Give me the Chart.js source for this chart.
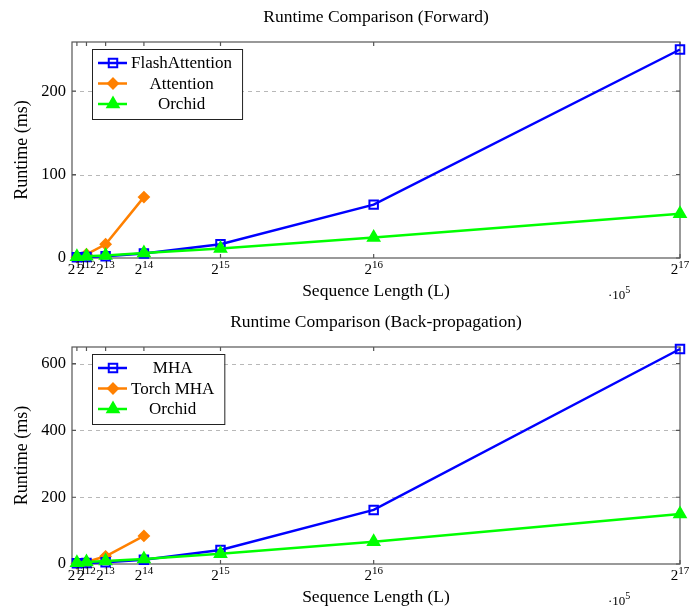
<!DOCTYPE html>
<html>
<head>
<meta charset="utf-8">
<script src="https://cdn.jsdelivr.net/npm/chart.js@4.4.1/dist/chart.umd.min.js"></script>
<style>
  html, body { margin: 0; padding: 0; background: #fff; }
  canvas { display: block; }
</style>
</head>
<body>
<canvas id="fwd" width="690" height="305"></canvas>
<canvas id="bwd" width="690" height="306"></canvas>
<script>
// --- Data (runtime in ms) ---
const seqLengths = [2048, 4096, 8192, 16384, 32768, 65536, 131072];
const xExponents = ['11', '12', '13', '14', '15', '16', '17'];

const fwdFlash = [0.8, 1.2, 2.0, 5.5, 16.5, 64, 250];
const fwdAttention = [1.0, 4.5, 16.5, 73];
const fwdOrchid = [1.5, 2.0, 3.0, 6.0, 11.5, 24.5, 53];

const bwdMHA = [2, 3, 5, 13, 42, 162, 644];
const bwdTorchMHA = [2, 6, 23, 84];
const bwdOrchid = [4, 6, 9, 15, 31, 67, 150];

const FONT = 'Liberation Serif';
const BLUE = '#0000ff', ORANGE = '#ff8000', GREEN = '#00ff00';

const pairs = vals => vals.map((v, i) => ({ x: seqLengths[i], y: v }));

function series(label, vals, color, style, radius, filled, order) {
    return {
        label: label,
        data: pairs(vals),
        borderColor: color,
        backgroundColor: color,
        borderWidth: 2.5,
        tension: 0,
        pointStyle: style,
        pointRadius: radius,
        pointBorderWidth: 2,
        pointBorderColor: color,
        pointBackgroundColor: filled ? color : 'rgba(0,0,0,0)',
        clip: false,
        order: order
    };
}

// marker for the hand drawn legend
function drawMarker(ctx, ds, x, y) {
    const r = ds.pointRadius;
    ctx.beginPath();
    if (ds.pointStyle === 'rect') {
        const s = r * Math.SQRT1_2;
        ctx.rect(x - s, y - s, 2 * s, 2 * s);
    } else if (ds.pointStyle === 'rectRot') {
        ctx.moveTo(x, y - r); ctx.lineTo(x + r, y); ctx.lineTo(x, y + r); ctx.lineTo(x - r, y);
        ctx.closePath();
    } else {
        let a = 0;
        ctx.moveTo(x + Math.sin(a) * r, y - Math.cos(a) * r);
        a += 2 * Math.PI / 3;
        ctx.lineTo(x + Math.sin(a) * r, y - Math.cos(a) * r);
        a += 2 * Math.PI / 3;
        ctx.lineTo(x + Math.sin(a) * r, y - Math.cos(a) * r);
        ctx.closePath();
    }
    ctx.fillStyle = ds.pointBackgroundColor;
    ctx.fill();
    ctx.lineWidth = ds.pointBorderWidth;
    ctx.strokeStyle = ds.pointBorderColor;
    ctx.stroke();
}

// pgfplots look: box frame, inward ticks, dashed grid, legend, 2^n labels
const pgfPlugin = {
    id: 'pgf',
    beforeDatasetsDraw(chart) {
        const { ctx, chartArea: a, scales: { x, y } } = chart;
        ctx.save();
        ctx.strokeStyle = '#b8b8b8';
        ctx.lineWidth = 1;
        ctx.setLineDash([4, 4]);
        y.ticks.forEach(t => {
            if (t.value === 0) return;
            const py = Math.round(y.getPixelForValue(t.value)) + 0.5;
            ctx.beginPath(); ctx.moveTo(a.left, py); ctx.lineTo(a.right, py); ctx.stroke();
        });
        ctx.setLineDash([]);
        ctx.strokeStyle = '#555';
        ctx.lineWidth = 1.2;
        ctx.strokeRect(a.left, a.top, a.right - a.left, a.bottom - a.top);
        ctx.beginPath();
        y.ticks.forEach(t => {
            const py = y.getPixelForValue(t.value);
            ctx.moveTo(a.left, py); ctx.lineTo(a.left + 4, py);
            ctx.moveTo(a.right, py); ctx.lineTo(a.right - 4, py);
        });
        seqLengths.forEach(v => {
            const px = x.getPixelForValue(v);
            ctx.moveTo(px, a.bottom); ctx.lineTo(px, a.bottom - 4);
            ctx.moveTo(px, a.top); ctx.lineTo(px, a.top + 4);
        });
        ctx.stroke();
        ctx.restore();
    },
    afterDatasetsDraw(chart) {
        const { ctx, chartArea: a, scales: { x } } = chart;
        ctx.save();
        ctx.fillStyle = '#000';
        ctx.textBaseline = 'alphabetic';
        ctx.textAlign = 'left';

        // x tick labels 2^n
        seqLengths.forEach((v, i) => {
            const px = x.getPixelForValue(v);
            ctx.font = '15px "' + FONT + '"';
            const wb = ctx.measureText('2').width;
            ctx.font = '11px "' + FONT + '"';
            const we = ctx.measureText(xExponents[i]).width;
            const left = px - (wb + we) / 2;
            ctx.font = '15px "' + FONT + '"';
            ctx.fillText('2', left, a.bottom + 16);
            ctx.font = '11px "' + FONT + '"';
            ctx.fillText(xExponents[i], left + wb, a.bottom + 10);
        });

        // scale factor note
        ctx.font = '13px "' + FONT + '"';
        ctx.fillText('\u00b710', a.right - 72, a.bottom + 41);
        const w10 = ctx.measureText('\u00b710').width;
        ctx.font = '10px "' + FONT + '"';
        ctx.fillText('5', a.right - 72 + w10, a.bottom + 35);

        // legend box
        const sets = chart.data.datasets;
        ctx.font = '17px "' + FONT + '"';
        const maxW = Math.max(...sets.map(d => ctx.measureText(d.label).width));
        const bx = a.left + 20, by = a.top + 7;
        const textX = bx + 39;
        const bw = 39 + maxW + 10, bh = 70;
        ctx.fillStyle = '#fff';
        ctx.fillRect(bx, by, bw, bh);
        ctx.strokeStyle = '#222';
        ctx.lineWidth = 1;
        ctx.strokeRect(bx + 0.5, by + 0.5, bw, bh);
        sets.forEach((d, i) => {
            const ry = by + 14 + i * 20.5;
            ctx.strokeStyle = d.borderColor;
            ctx.lineWidth = d.borderWidth;
            ctx.beginPath(); ctx.moveTo(bx + 6, ry); ctx.lineTo(bx + 35, ry); ctx.stroke();
            drawMarker(ctx, d, bx + 21, ry);
            ctx.fillStyle = '#000';
            ctx.textAlign = 'center';
            ctx.textBaseline = 'middle';
            ctx.font = '17px "' + FONT + '"';
            ctx.fillText(d.label, textX + maxW / 2, ry + 1);
        });
        ctx.restore();
    }
};

function makeChart(id, title, sets, yMax, yStep) {
    return new Chart(document.getElementById(id), {
        type: 'line',
        data: { datasets: sets },
        options: {
            responsive: false,
            animation: false,
            layout: { padding: { top: 0, right: 10, bottom: 0, left: 0 } },
            plugins: {
                legend: { display: false },
                tooltip: { enabled: false },
                title: {
                    display: true,
                    fullSize: false,
                    text: title,
                    color: '#000',
                    font: { family: FONT, size: 17.5, weight: 'normal' },
                    padding: { top: 7, bottom: 14 }
                }
            },
            scales: {
                x: {
                    type: 'linear',
                    min: 1000,
                    max: 131072,
                    grid: { display: false, drawTicks: false },
                    border: { display: false },
                    ticks: { display: false },
                    afterBuildTicks: s => { s.ticks = seqLengths.map(v => ({ value: v })); },
                    afterFit: s => { s.height = 47; },
                    title: {
                        display: true,
                        text: 'Sequence Length (L)',
                        color: '#000',
                        font: { family: FONT, size: 17.5 },
                        padding: { top: 0, bottom: 3.5 }
                    }
                },
                y: {
                    min: 0,
                    max: yMax,
                    grid: { display: false, drawTicks: false },
                    border: { display: false },
                    ticks: {
                        stepSize: yStep,
                        includeBounds: false,
                        padding: 6,
                        color: '#000',
                        font: { family: FONT, size: 16.5 }
                    },
                    afterFit: s => { s.width = 72; },
                    title: {
                        display: true,
                        text: 'Runtime (ms)',
                        color: '#000',
                        font: { family: FONT, size: 18 },
                        padding: { top: 11, bottom: 0 }
                    }
                }
            }
        },
        plugins: [pgfPlugin]
    });
}

const fwdChart = makeChart('fwd', 'Runtime Comparison (Forward)', [
    series('FlashAttention', fwdFlash, BLUE, 'rect', 6, false, 2),
    series('Attention', fwdAttention, ORANGE, 'rectRot', 5, true, 3),
    series('Orchid', fwdOrchid, GREEN, 'triangle', 6.5, true, 1)
], 259, 100);

const bwdChart = makeChart('bwd', 'Runtime Comparison (Back-propagation)', [
    series('MHA', bwdMHA, BLUE, 'rect', 6, false, 2),
    series('Torch MHA', bwdTorchMHA, ORANGE, 'rectRot', 5, true, 3),
    series('Orchid', bwdOrchid, GREEN, 'triangle', 6.5, true, 1)
], 650, 200);
</script>
</body>
</html>
